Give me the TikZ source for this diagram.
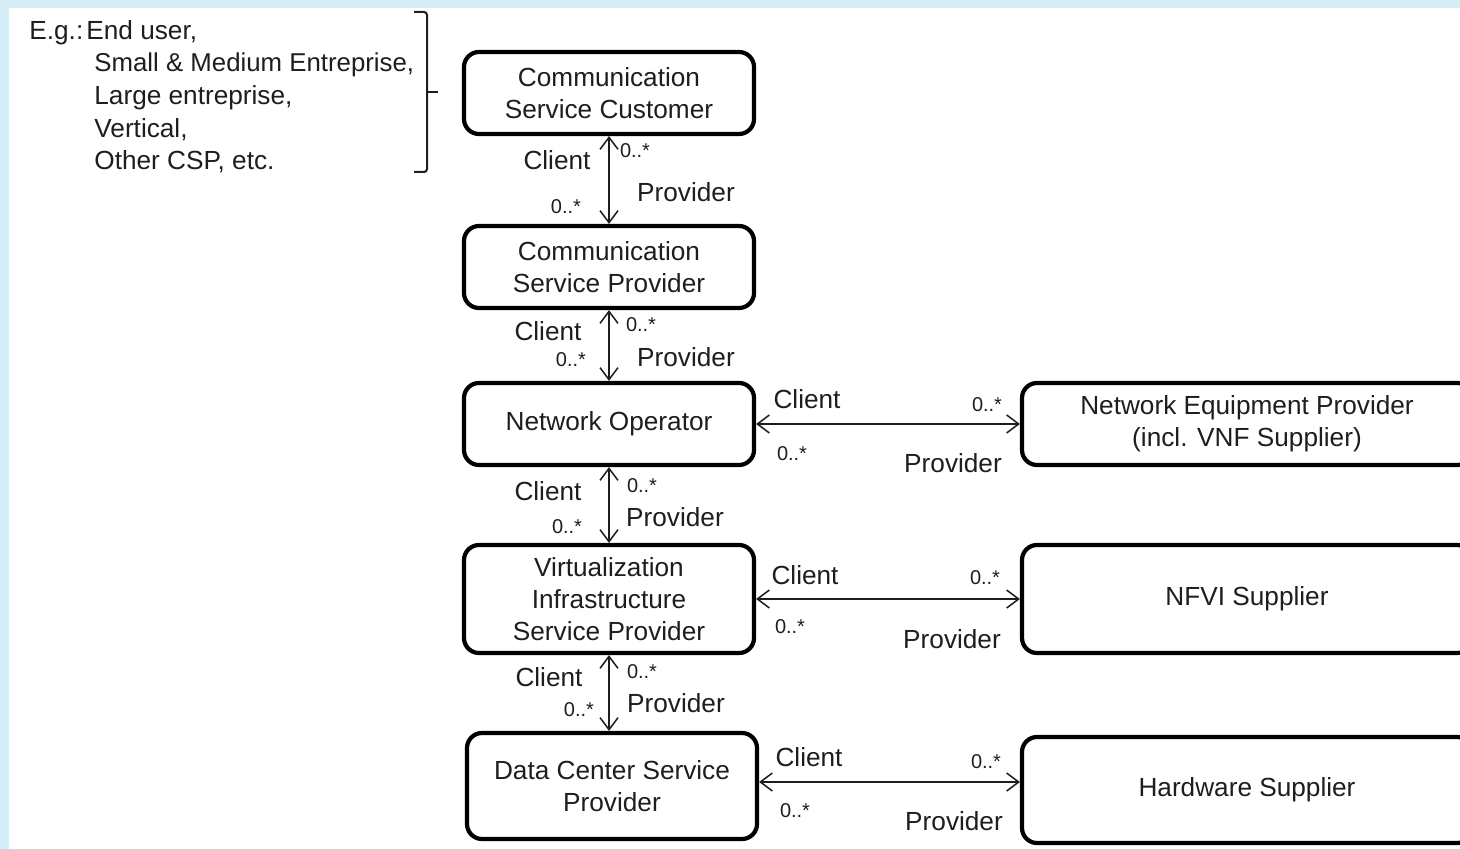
\documentclass[tikz,border=0pt]{standalone}
\usepackage{fontspec}
\setmainfont{Liberation Sans}
\usetikzlibrary{arrows.meta}
\definecolor{frameblue}{RGB}{213,237,244}
\definecolor{ink}{RGB}{30,30,30}
\tikzset{
  role/.style={draw=black,line width=2.1pt,rounded corners=7.5pt,fill=white,align=center,
    text=ink,font=\fontsize{13.1}{16}\selectfont,inner sep=0pt},
  lbl/.style={text=ink,font=\fontsize{13.1}{16}\selectfont,inner sep=0pt},
  mult/.style={text=ink,font=\fontsize{10}{12}\selectfont,inner sep=0pt},
  assoc/.style={draw=ink,line width=0.75pt,{Straight Barb[length=6pt,width=9pt]}-{Straight Barb[length=6pt,width=9pt]}},
  brace/.style={draw=ink,line width=1pt,rounded corners=1.5pt}
}
\begin{document}
\begin{tikzpicture}[x=0.5pt,y=-0.5pt]
\useasboundingbox (0,0) rectangle (1460,849);
\fill[frameblue] (0,0) rectangle (1460,849);
\fill[white] (9,8) rectangle (1460,849);
\begin{scope}
\clip (0,0) rectangle (1460,849);
% left column
\node[role,minimum width=145pt,minimum height=41pt] (csc) at (609,93) {Communication\\Service Customer};
\node[role,minimum width=145pt,minimum height=41pt] (csp) at (609,267) {Communication\\Service Provider};
\node[role,minimum width=145pt,minimum height=41pt] (no) at (609,424) {Network Operator};
\node[role,minimum width=145pt,minimum height=54pt] (visp) at (609,599) {Virtualization\\Infrastructure\\Service Provider};
\node[role,minimum width=145pt,minimum height=53pt] (dcsp) at (612,786) {Data Center Service\\Provider};
% right column
\node[role,minimum width=225pt,minimum height=41pt] (nep) at (1247,424) {Network Equipment Provider\\(incl. VNF Supplier)};
\node[role,minimum width=225pt,minimum height=54pt] (nfvi) at (1247,599) {NFVI Supplier};
\node[role,minimum width=225pt,minimum height=53pt] (hw) at (1247,790) {Hardware Supplier};
\end{scope}
% vertical associations
\draw[assoc] (csc.south) -- (csp.north);
\draw[assoc] (csp.south) -- (no.north);
\draw[assoc] (no.south) -- (visp.north);
\draw[assoc] (visp.south) -- (visp.south |- dcsp.north);
% horizontal associations
\draw[assoc] (no.east) -- (nep.west);
\draw[assoc] (visp.east) -- (nfvi.west);
\coordinate (dy) at (0,782);
\draw[assoc] (dcsp.east |- dy) -- (hw.west |- dy);
% labels arrow 1
\node[lbl] (a1c) at (557,160) {Client};
\node[mult] (a1m1) at (635,151) {0..*};
\node[lbl] (a1p) at (686,192) {Provider};
\node[mult] (a1m2) at (566,207) {0..*};
% arrow 2
\node[lbl] (a2c) at (548,331) {Client};
\node[mult] (a2m1) at (641,325) {0..*};
\node[lbl] (a2p) at (686,357) {Provider};
\node[mult] (a2m2) at (571,360) {0..*};
% arrow 3
\node[lbl] (a3c) at (548,491) {Client};
\node[mult] (a3m1) at (642,486) {0..*};
\node[lbl] (a3p) at (675,517) {Provider};
\node[mult] (a3m2) at (567,527) {0..*};
% arrow 4
\node[lbl] (a4c) at (549,677) {Client};
\node[mult] (a4m1) at (642,672) {0..*};
\node[lbl] (a4p) at (676,703) {Provider};
\node[mult] (a4m2) at (579,710) {0..*};
% horizontal 1
\node[lbl] (h1c) at (807,399) {Client};
\node[mult] (h1m1) at (987,405) {0..*};
\node[mult] (h1m2) at (792,454) {0..*};
\node[lbl] (h1p) at (953,463) {Provider};
% horizontal 2
\node[lbl] (h2c) at (805,575) {Client};
\node[mult] (h2m1) at (985,578) {0..*};
\node[mult] (h2m2) at (790,627) {0..*};
\node[lbl] (h2p) at (952,639) {Provider};
% horizontal 3
\node[lbl] (h3c) at (809,757) {Client};
\node[mult] (h3m1) at (986,762) {0..*};
\node[mult] (h3m2) at (795,811) {0..*};
\node[lbl] (h3p) at (954,821) {Provider};
% examples text
\node[lbl,anchor=west] (eg1) at (29,33) {E.g.:\hspace{0.12em}End user,};
\node[lbl,anchor=west,font=\fontsize{12.9}{16}\selectfont] (eg2) at (94,65) {Small \& Medium Entreprise,};
\node[lbl,anchor=west] (eg3) at (94,98) {Large entreprise,};
\node[lbl,anchor=west] (eg4) at (94,130) {Vertical,};
\node[lbl,anchor=west] (eg5) at (94,162) {Other CSP, etc.};
% bracket
\draw[brace] (414,12) -- (427,12) -- (427,172) -- (414,172);
\draw[brace] (427,92) -- (438,92);
\end{tikzpicture}
\end{document}
